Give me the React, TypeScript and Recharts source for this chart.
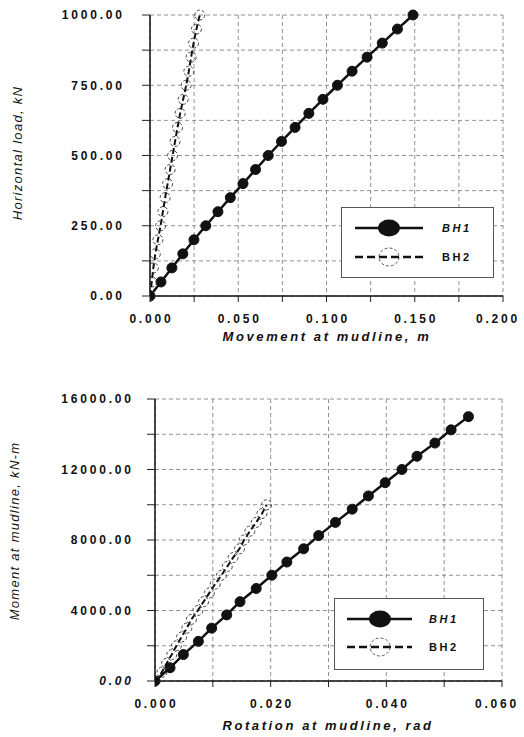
import { LineChart, Line, XAxis, YAxis, CartesianGrid, Legend, Label } from "recharts";

const FONT = '"Liberation Sans", Arial, Helvetica, sans-serif';

// upper plot: horizontal load (kN) against movement at mudline (m)
const loadSteps = [0, 50, 100, 150, 200, 250, 300, 350, 400, 450, 500, 550, 600, 650, 700, 750, 800, 850, 900, 950, 1000];
const bh1Movement = [0, 0.0062, 0.0124, 0.0186, 0.0249, 0.0316, 0.0385, 0.0455, 0.0527, 0.0598, 0.067, 0.0745, 0.0822, 0.09, 0.098, 0.1062, 0.1145, 0.123, 0.1316, 0.1402, 0.149];
const bh2Movement = [0, 0.001, 0.0019, 0.003, 0.0045, 0.006, 0.0073, 0.0086, 0.01, 0.0114, 0.0128, 0.0142, 0.0156, 0.0171, 0.0188, 0.0205, 0.022, 0.0233, 0.0247, 0.0263, 0.0282];
const movementTicks = [0, 0.025, 0.05, 0.075, 0.1, 0.125, 0.15, 0.175, 0.2];
const loadTicks = [0, 125, 250, 375, 500, 625, 750, 875, 1000];

// lower plot: moment at mudline (kN-m) against rotation at mudline (rad)
const bh1Moment = [0, 750, 1500, 2250, 3000, 3750, 4500, 5250, 6000, 6750, 7500, 8250, 9000, 9750, 10500, 11250, 12000, 12750, 13500, 14250, 15000];
const bh1Rotation = [0, 0.0026, 0.0049, 0.0075, 0.0098, 0.0124, 0.0147, 0.0175, 0.0202, 0.0228, 0.0257, 0.0283, 0.0312, 0.0341, 0.0369, 0.0398, 0.0427, 0.0453, 0.0484, 0.0512, 0.0542];
const bh2Moment = [0, 500, 1000, 1500, 2000, 2500, 3000, 3500, 4000, 4500, 5000, 5500, 6000, 6500, 7000, 7500, 8000, 8500, 9000, 9500, 10000];
const bh2Rotation = [0, 0.0012, 0.002, 0.0029, 0.0037, 0.0046, 0.0055, 0.0063, 0.0074, 0.0084, 0.0094, 0.0104, 0.0115, 0.0125, 0.0135, 0.0146, 0.0154, 0.0164, 0.0175, 0.0185, 0.0193];
const rotationTicks = [0, 0.01, 0.02, 0.03, 0.04, 0.05, 0.06];
const momentTicks = [0, 2000, 4000, 6000, 8000, 10000, 12000, 14000, 16000];

const toPoints = (xs: number[], ys: number[]) => xs.map((x, i) => ({ x, y: ys[i] }));

const isLabelled = (v: number, step: number) => Math.abs(v / step - Math.round(v / step)) < 1e-6;

const LS = 2.8;

// last label sits on the right border, nudge it so it stays inside the page
const xTick = (step: number, digits: number, max: number) => (props: any) => {
  const { x, y, payload } = props;
  if (!isLabelled(payload.value, step)) return <g />;
  const nudge = Math.abs(payload.value - max) < 1e-9 ? -5 : LS / 2;
  return (
    <text x={x} y={y} dy={8.6} dx={nudge} textAnchor="middle" fontFamily={FONT} fontSize={12} fontWeight="bold" letterSpacing={LS} fill="#111">
      {payload.value.toFixed(digits)}
    </text>
  );
};

const yTick = (step: number, italicZero: boolean) => (props: any) => {
  const { x, y, payload } = props;
  if (!isLabelled(payload.value, step)) return <g />;
  return (
    <text
      x={x}
      y={y}
      dy={4.3}
      dx={LS}
      textAnchor="end"
      fontFamily={FONT}
      fontSize={12}
      fontWeight="bold"
      fontStyle={italicZero && payload.value === 0 ? "italic" : "normal"}
      letterSpacing={LS}
      fill="#111"
    >
      {payload.value.toFixed(2)}
    </text>
  );
};

const xTitle = (text: string, cx: number, cy: number) => () => (
  <text x={cx} y={cy} textAnchor="middle" fontFamily={FONT} fontSize={13} fontWeight="bold" fontStyle="italic" letterSpacing={2.6} fill="#111">
    {text}
  </text>
);

const yTitle = (text: string, cx: number, cy: number) => () => (
  <text
    x={cx}
    y={cy}
    transform={`rotate(-90, ${cx}, ${cy})`}
    textAnchor="middle"
    dominantBaseline="central"
    fontFamily={FONT}
    fontSize={13}
    fontStyle="italic"
    letterSpacing={1.3}
    fill="#111"
  >
    {text}
  </text>
);

const SeriesKey = ({ w, h, x1, x2, mx, tx, r1, r2 }: any) => (
  <svg width={w} height={h} style={{ display: "block" }}>
    <rect x={0.5} y={0.5} width={w - 1} height={h - 1} fill="#fff" stroke="#555" />
    <line x1={x1} x2={x2} y1={r1} y2={r1} stroke="#111" strokeWidth={2.5} />
    <ellipse cx={mx} cy={r1} rx={11} ry={8.5} fill="#111" />
    <text x={tx} y={r1 + 4} fontFamily={FONT} fontSize={11} fontWeight="bold" fontStyle="italic" letterSpacing={2.5} fill="#111">
      BH1
    </text>
    <line x1={x1} x2={x2} y1={r2} y2={r2} stroke="#111" strokeWidth={2.5} strokeDasharray="8 4" />
    <ellipse cx={mx} cy={r2} rx={10} ry={9} fill="none" stroke="#333" strokeWidth={0.8} strokeDasharray="3 2" />
    <text x={tx} y={r2 + 4} fontFamily={FONT} fontSize={11} fontWeight="bold" letterSpacing={2.5} fill="#111">
      BH2
    </text>
  </svg>
);

const gridProps = { stroke: "#777", strokeDasharray: "4 3", strokeWidth: 0.8 };

export default function App() {
  return (
    <div style={{ position: "absolute", left: 0, top: 0, width: 524, height: 737, background: "#fff" }}>
      <div style={{ position: "absolute", left: 0, top: 0 }}>
        <LineChart width={524} height={345} margin={{ top: 15, right: 21, left: 0, bottom: 0 }}>
          <CartesianGrid {...gridProps} />
          <XAxis
            type="number"
            dataKey="x"
            domain={[0, 0.2]}
            ticks={movementTicks}
            allowDataOverflow
            height={49}
            tickSize={6}
            tickMargin={12}
            tick={xTick(0.05, 3, 0.2)}
            axisLine={{ stroke: "#111", strokeWidth: 1.5 }}
            tickLine={{ stroke: "#222" }}
          >
            <Label content={xTitle("Movement at mudline, m", 327, 341)} />
          </XAxis>
          <YAxis
            type="number"
            dataKey="y"
            domain={[0, 1000]}
            ticks={loadTicks}
            width={150}
            tickSize={8}
            tickMargin={20}
            tick={yTick(250, false)}
            axisLine={{ stroke: "#111", strokeWidth: 1.5 }}
            tickLine={{ stroke: "#222" }}
          >
            <Label content={yTitle("Horizontal load, kN", 17, 153)} />
          </YAxis>
          <Line
            data={toPoints(bh1Movement, loadSteps)}
            dataKey="y"
            name="BH1"
            stroke="#111"
            strokeWidth={2.5}
            dot={{ r: 5, fill: "#111", stroke: "#111", strokeWidth: 1 }}
            isAnimationActive={false}
          />
          <Line
            data={toPoints(bh2Movement, loadSteps)}
            dataKey="y"
            name="BH2"
            stroke="#111"
            strokeWidth={2}
            strokeDasharray="6 3"
            dot={{ r: 5, fill: "none", stroke: "#333", strokeWidth: 0.9, strokeDasharray: "3 2" }}
            isAnimationActive={false}
          />
          <Legend
            layout="horizontal"
            verticalAlign="middle"
            align="center"
            wrapperStyle={{ left: 341, top: 207, width: 153, height: 71, lineHeight: 0 }}
            content={() => <SeriesKey w={153} h={71} x1={14} x2={82} mx={48} tx={101} r1={21} r2={50} />}
          />
        </LineChart>
      </div>
      <div style={{ position: "absolute", left: 0, top: 380 }}>
        <LineChart width={524} height={357} margin={{ top: 19, right: 22, left: 0, bottom: 0 }}>
          <CartesianGrid {...gridProps} />
          <XAxis
            type="number"
            dataKey="x"
            domain={[0, 0.06]}
            ticks={rotationTicks}
            allowDataOverflow
            height={56}
            tickSize={6}
            tickMargin={12}
            tick={xTick(0.02, 3, 0.06)}
            axisLine={{ stroke: "#111", strokeWidth: 1.5 }}
            tickLine={{ stroke: "#222" }}
          >
            <Label content={xTitle("Rotation at mudline, rad", 328, 350)} />
          </XAxis>
          <YAxis
            type="number"
            dataKey="y"
            domain={[0, 16000]}
            ticks={momentTicks}
            width={155}
            tickSize={8}
            tickMargin={16}
            tick={yTick(4000, true)}
            axisLine={{ stroke: "#111", strokeWidth: 1.5 }}
            tickLine={{ stroke: "#222" }}
          >
            <Label content={yTitle("Moment at mudline, kN-m", 14, 151)} />
          </YAxis>
          <Line
            data={toPoints(bh1Rotation, bh1Moment)}
            dataKey="y"
            name="BH1"
            stroke="#111"
            strokeWidth={2.5}
            dot={{ r: 5, fill: "#111", stroke: "#111", strokeWidth: 1 }}
            isAnimationActive={false}
          />
          <Line
            data={toPoints(bh2Rotation, bh2Moment)}
            dataKey="y"
            name="BH2"
            stroke="#111"
            strokeWidth={2}
            strokeDasharray="6 3"
            dot={{ r: 5, fill: "none", stroke: "#333", strokeWidth: 0.9, strokeDasharray: "3 2" }}
            isAnimationActive={false}
          />
          <Legend
            layout="horizontal"
            verticalAlign="middle"
            align="center"
            wrapperStyle={{ left: 334, top: 218, width: 150, height: 72, lineHeight: 0 }}
            content={() => <SeriesKey w={150} h={72} x1={13} x2={78} mx={46} tx={95} r1={21} r2={49} />}
          />
        </LineChart>
      </div>
    </div>
  );
}
